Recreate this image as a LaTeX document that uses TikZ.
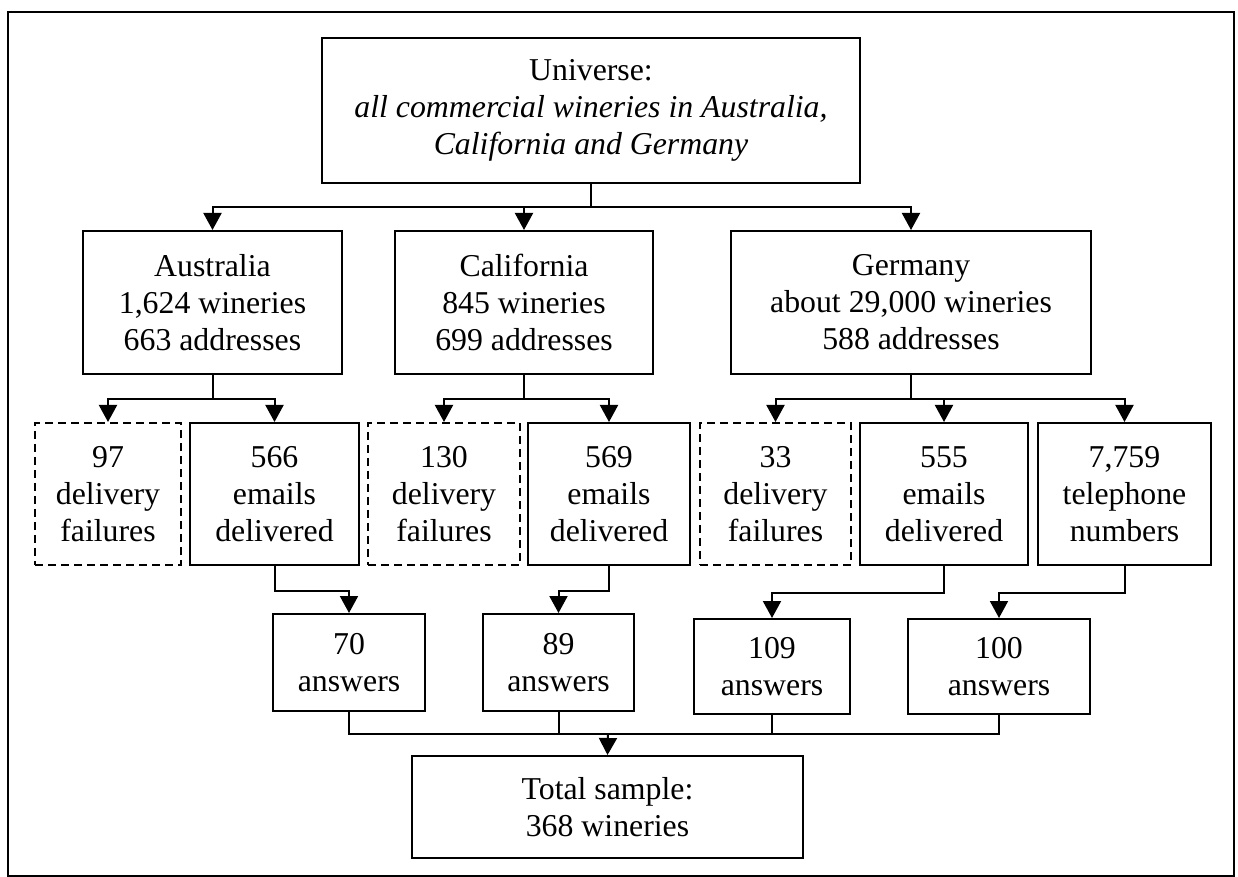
\documentclass[tikz,border=0pt]{standalone}
\usepackage{fontspec}
\setmainfont{Liberation Serif}
\usetikzlibrary{arrows.meta}

\begin{document}
\begin{tikzpicture}[
  x=0.5pt, y=-0.5pt,
  font=\fontsize{15.9}{18.5}\selectfont,
  >={Triangle[length=8.5pt,width=9pt]},
  box/.style={draw, line width=1pt, align=center, inner sep=0pt},
  failbox/.style={box, dash pattern=on 4pt off 2.5pt},
  link/.style={line width=1pt},
  arr/.style={link, ->}
]
\useasboundingbox (0,0) rectangle (1238,877);
\draw[line width=1pt] (8,12) rectangle (1234,876);

% top level
\node[box, minimum width=269pt, minimum height=72.5pt] (univ) at (591,110.5)
  {Universe:\\ \textit{all commercial wineries in Australia,}\\ \textit{California and Germany}};

% countries
\node[box, minimum width=129.5pt, minimum height=71.5pt] (aus) at (212.5,302.5)
  {Australia\\ 1,624 wineries\\ 663 addresses};
\node[box, minimum width=129pt, minimum height=71.5pt] (cal) at (524,302.5)
  {California\\ 845 wineries\\ 699 addresses};
\node[box, minimum width=180pt, minimum height=71.5pt] (ger) at (911,302.5)
  {Germany\\ about 29,000 wineries\\ 588 addresses};

% contacts
\node[failbox, minimum width=73pt, minimum height=71pt] (fail97) at (108,494)
  {97\\ delivery\\ failures};
\node[box, minimum width=84.5pt, minimum height=71pt] (mail566) at (274.5,494)
  {566\\ emails\\ delivered};
\node[failbox, minimum width=76pt, minimum height=71pt] (fail130) at (444,494)
  {130\\ delivery\\ failures};
\node[box, minimum width=81pt, minimum height=71pt] (mail569) at (609,494)
  {569\\ emails\\ delivered};
\node[failbox, minimum width=75.5pt, minimum height=71pt] (fail33) at (775.5,494)
  {33\\ delivery\\ failures};
\node[box, minimum width=84pt, minimum height=71pt] (mail555) at (944,494)
  {555\\ emails\\ delivered};
\node[box, minimum width=86.5pt, minimum height=71pt] (tel) at (1124.5,494)
  {7,759\\ telephone\\ numbers};

% answers
\node[box, minimum width=76pt, minimum height=48.5pt] (ans70) at (349,662.5)
  {70\\ answers};
\node[box, minimum width=75.5pt, minimum height=48.5pt] (ans89) at (558.5,662.5)
  {89\\ answers};
\node[box, minimum width=78pt, minimum height=47.5pt] (ans109) at (772,666.5)
  {109\\ answers};
\node[box, minimum width=91pt, minimum height=47.5pt] (ans100) at (999,666.5)
  {100\\ answers};

\node[box, minimum width=195.5pt, minimum height=51pt] (total) at (607.5,807)
  {Total sample:\\ 368 wineries};

\coordinate (merge) at (608,734);

% connectors
\draw[arr] (univ.south) -- ++(0,23) -| (aus.north);
\draw[arr] (univ.south) -- ++(0,23) -| (cal.north);
\draw[arr] (univ.south) -- ++(0,23) -| (ger.north);

\draw[arr] (aus.south) -- ++(0,24) -| (fail97.north);
\draw[arr] (aus.south) -- ++(0,24) -| (mail566.north);
\draw[arr] (cal.south) -- ++(0,24) -| (fail130.north);
\draw[arr] (cal.south) -- ++(0,24) -| (mail569.north);
\draw[arr] (ger.south) -- ++(0,24) -| (fail33.north);
\draw[arr] (ger.south) -- ++(0,24) -| (mail555.north);
\draw[arr] (ger.south) -- ++(0,24) -| (tel.north);

\draw[arr] (mail566.south) -- ++(0,25) -| (ans70.north);
\draw[arr] (mail569.south) -- ++(0,25) -| (ans89.north);
\draw[arr] (mail555.south) -- ++(0,27) -| (ans109.north);
\draw[arr] (tel.south) -- ++(0,27) -| (ans100.north);

\draw[link] (ans70.south) |- (merge);
\draw[link] (ans89.south) |- (merge);
\draw[link] (ans109.south) |- (merge);
\draw[link] (ans100.south) |- (merge);
\draw[arr] (merge) -- (total.north);
\end{tikzpicture}
\end{document}
